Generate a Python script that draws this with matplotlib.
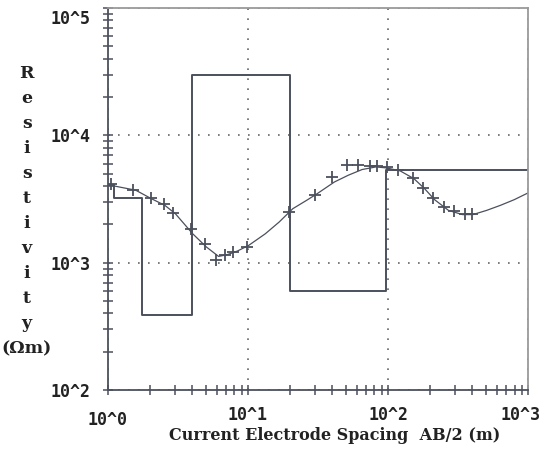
import matplotlib
matplotlib.use("Agg")
import matplotlib.pyplot as plt
import numpy as np
from matplotlib.ticker import LogLocator, FuncFormatter, NullFormatter
from matplotlib.transforms import ScaledTranslation

# layered model (AB/2 boundaries, resistivity of each layer)
layer_bounds = [1.0, 1.1, 1.75, 4.0, 20.0, 96.0, 1000.0]
layer_rho = [4100, 3250, 390, 30000, 605, 5400]

# field data points (+)
obs_ab2 = [1.05, 1.52, 2.03, 2.51, 2.93, 3.91, 4.93, 5.91, 6.85, 7.85, 9.79,
           19.7, 30.1, 39.6, 50.7, 61.4, 74.4, 83.9, 97.9, 118.5, 151.6,
           178.7, 210.7, 252.6, 296, 355, 396]
obs_rho = [4130, 3725, 3205, 2875, 2445, 1841, 1403, 1050, 1149, 1219, 1336,
           2489, 3405, 4745, 5850, 5850, 5755, 5755, 5615, 5345, 4600,
           3840, 3205, 2755, 2560, 2413, 2413]

# computed (model) curve
fit_ab2 = [1.0, 1.58, 2.04, 2.55, 3.03, 4.03, 5.05, 6.17, 7.1, 8.4, 10.1,
           13.3, 16.7, 20.9, 26.3, 31.2, 41.4, 52.0, 65.3, 82.0, 97.3, 122,
           153, 182, 215, 270, 340, 403, 506, 634, 796, 1000]
fit_rho = [4100, 3715, 3190, 2825, 2430, 1690, 1330, 1122, 1157, 1236, 1368,
           1690, 2090, 2660, 3100, 3490, 4310, 4870, 5400, 5660, 5560, 5270,
           4580, 3830, 3130, 2580, 2390, 2390, 2580, 2825, 3130, 3540]

ylabel_text = "Resistivity"
xlabel_text = "Current Electrode Spacing  AB/2 (m)"

LINE = "#4b505c"

fig = plt.figure(figsize=(5.45, 4.51), dpi=100)
ax = fig.add_axes([0.198, 0.135, 0.771, 0.847])

ax.step(layer_bounds, layer_rho + layer_rho[-1:], where="post", color=LINE, lw=1.4)
ax.plot(fit_ab2, fit_rho, color=LINE, lw=0.9)
ax.plot(obs_ab2, obs_rho, ls="none", marker="+", ms=9, mew=1.3, color=LINE)

ax.set_xscale("log")
ax.set_yscale("log")
ax.set_xlim(1, 1000)
ax.set_ylim(100, 1e5)

fmt = FuncFormatter(lambda v, p: f"10^{int(round(np.log10(v)))}")
for axis in (ax.xaxis, ax.yaxis):
    axis.set_major_locator(LogLocator(base=10))
    axis.set_minor_locator(LogLocator(base=10, subs=np.arange(2, 10)))
    axis.set_major_formatter(fmt)
    axis.set_minor_formatter(NullFormatter())

ax.tick_params(which="both", direction="inout", color=LINE, width=1.1, length=7)
ax.tick_params(axis="x", which="major", pad=8)
ax.tick_params(axis="y", which="major", pad=9)

for lab in ax.get_xticklabels() + ax.get_yticklabels():
    lab.set_fontfamily("DejaVu Sans Mono")
    lab.set_fontweight("bold")
    lab.set_fontsize(12)
    lab.set_color("#222222")

ax.grid(True, which="major", ls=(0, (1, 5)), color="#666666", lw=1.2)

for s in ax.spines.values():
    s.set_color(LINE)
    s.set_linewidth(1.3)
ax.spines["top"].set_color("#9a9a9a")
ax.spines["right"].set_color("#9a9a9a")

ax.set_xlabel(xlabel_text, fontfamily="DejaVu Serif", fontweight="bold",
              fontsize=11.5, va="center", color="#222222")
ax.xaxis.set_label_coords(0.54, -0.118)

ax.set_ylabel("\n".join(ylabel_text) + "\n(Ωm)", rotation=0,
              fontfamily="DejaVu Serif", fontweight="bold", fontsize=12.5,
              va="center", ha="center", linespacing=1.62, color="#222222")
ax.yaxis.set_label_coords(-0.193, 0.469)


def nudge(lab, dx, dy):
    lab.set_transform(lab.get_transform()
                      + ScaledTranslation(dx / 100, dy / 100, fig.dpi_scale_trans))


fig.canvas.draw()
for t in ax.xaxis.get_major_ticks():
    v = t.get_loc()
    if np.isclose(v, 1):
        nudge(t.label1, 0, -5)
    elif np.isclose(v, 1000):
        nudge(t.label1, -8, 0)
for t in ax.yaxis.get_major_ticks():
    if np.isclose(t.get_loc(), 1e5):
        nudge(t.label1, 0, -9)

fig.savefig("out.png", dpi=100, facecolor="white")
